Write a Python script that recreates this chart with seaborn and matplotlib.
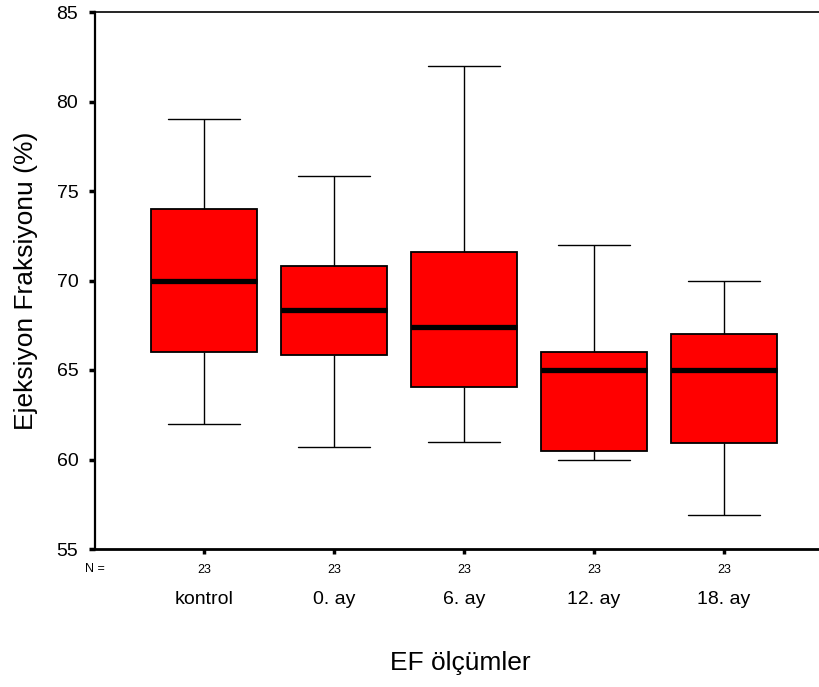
import numpy as np
import pandas as pd
import matplotlib
matplotlib.use("Agg")
import matplotlib.pyplot as plt
import seaborn as sns
from matplotlib.transforms import blended_transform_factory

# ---- data ----
groups = ["kontrol", "0. ay", "6. ay", "12. ay", "18. ay"]
n_labels = ["23", "23", "23", "23", "23"]
whisker_low = [62.0, 60.7, 61.0, 60.0, 56.9]
q1 = [66.0, 65.85, 64.05, 60.5, 60.9]
median = [70.0, 68.35, 67.4, 65.0, 65.0]
q3 = [74.0, 70.8, 71.6, 66.0, 67.0]
whisker_high = [79.0, 75.85, 82.0, 72.0, 70.0]
yticks = [55, 60, 65, 70, 75, 80, 85]

rows = []
for i, g in enumerate(groups):
    for v in (whisker_low[i], q1[i], median[i], q3[i], whisker_high[i]):
        rows.append({"grup": g, "EF": v})
df = pd.DataFrame(rows)

sns.set_style("white")
plt.rcParams["font.family"] = ["Liberation Sans", "DejaVu Sans"]
plt.rcParams["text.color"] = "black"
plt.rcParams["axes.labelcolor"] = "black"
plt.rcParams["xtick.color"] = "black"
plt.rcParams["ytick.color"] = "black"

fig = plt.figure(figsize=(8.2, 6.87), dpi=100)
W, H = 820, 687
ax = fig.add_axes([95 / W, 1 - 549 / H, 1 - 95 / W, (549 - 12) / H])

sns.boxplot(
    data=df, x="grup", y="EF", order=groups, ax=ax,
    whis=(0, 100), showfliers=False, width=0.815,
    color="#ff0000", saturation=1, linecolor="black", linewidth=1.3,
    medianprops=dict(color="black", linewidth=3.8),
    whiskerprops=dict(color="black", linewidth=1.0),
    capprops=dict(color="black", linewidth=1.0),
    capwidths=0.55,
)

ax.set_xlim(-0.84, 4.74)
ax.set_ylim(55, 85)
ax.set_yticks(yticks)
ax.set_yticklabels([str(t) for t in yticks], fontsize=14, color="black")
ax.set_xticks(range(len(groups)))
ax.set_xticklabels(n_labels, fontsize=9, color="black")
ax.tick_params(axis="y", left=True, direction="out", length=4, width=2.5, pad=8, colors="black")
ax.tick_params(axis="x", bottom=True, direction="out", length=3.5, width=2.5, pad=7, colors="black")
ax.set_xlabel("")
ax.set_ylabel("")

for s in ["left", "bottom", "top"]:
    ax.spines[s].set_visible(True)
    ax.spines[s].set_color("black")
ax.spines["left"].set_linewidth(1.6)
ax.spines["bottom"].set_linewidth(2.0)
ax.spines["top"].set_linewidth(1.2)
ax.spines["right"].set_visible(False)

trans = blended_transform_factory(ax.transData, fig.transFigure)
for i, g in enumerate(groups):
    ax.text(i, 1 - 600 / H, g, transform=trans, ha="center", va="center",
            fontsize=14, color="black")

fig.text(95 / W, 1 - 569 / H, "N =", ha="center", va="center", fontsize=9, color="black")
fig.text(460 / W, 1 - 663 / H, "EF ölçümler", ha="center", va="center",
         fontsize=19, color="black")
fig.text(26 / W, 1 - 281 / H, "Ejeksiyon Fraksiyonu (%)", ha="center", va="center",
         rotation=90, fontsize=19, color="black")

fig.savefig("out.png", dpi=100)
